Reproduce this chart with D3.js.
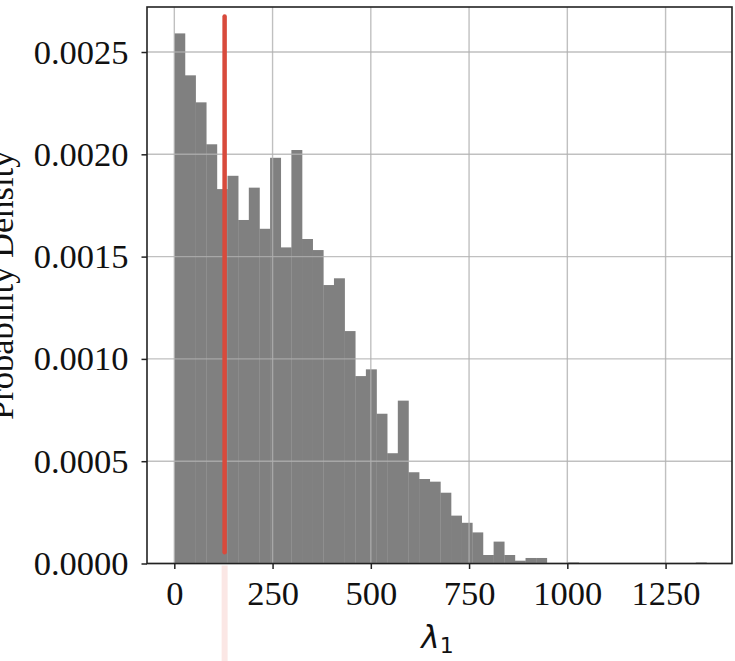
<!DOCTYPE html>
<html>
<head>
<meta charset="utf-8">
<script src="https://cdn.jsdelivr.net/npm/d3@7"></script>
<style>
  html, body { margin: 0; padding: 0; background: #fff; }
  svg { display: block; }
</style>
</head>
<body>
<svg id="chart" width="735" height="661"></svg>
<script>
// Histogram of λ1: 50 equal-width bins starting at 0
const binStart = 0;
const binWidth = 27.08;
const densities = [
  0.002591, 0.002386, 0.002254, 0.002049, 0.001830,
  0.001895, 0.001679, 0.001837, 0.001636, 0.001983,
  0.001545, 0.002021, 0.001586, 0.001532, 0.001361,
  0.001394, 0.001136, 0.000916, 0.000949, 0.000732,
  0.000539, 0.000796, 0.000446, 0.000413, 0.000400,
  0.000346, 0.000234, 0.000199, 0.000152, 0.0000415,
  0.000107, 0.0000415, 0.0000137, 0.000027, 0.000027,
  0, 0, 0.000005, 0, 0,
  0, 0, 0, 0, 0,
  0, 0, 0, 0, 0.000005
];
const markerValue = 128;           // vertical reference line
const xTicks = [0, 250, 500, 750, 1000, 1250];
const yTicks = [0, 0.0005, 0.0010, 0.0015, 0.0020, 0.0025];
const xDomain = [-69.5, 1419];
const yDomain = [0, 0.00272];

const svg = d3.select("#chart");
const plotLeft = 147, plotRight = 732, plotTop = 7, plotBottom = 563.5;

const x = d3.scaleLinear().domain(xDomain).range([plotLeft, plotRight]);
const y = d3.scaleLinear().domain(yDomain).range([plotBottom, plotTop]);

const bins = densities.map((d, i) => ({
  x0: binStart + i * binWidth,
  x1: binStart + (i + 1) * binWidth,
  d
}));

// bars
svg.append("g")
  .selectAll("rect")
  .data(bins.filter(b => b.d > 0))
  .join("rect")
  .attr("x", b => x(b.x0))
  .attr("width", b => x(b.x1) - x(b.x0) + 0.3)
  .attr("y", b => y(b.d))
  .attr("height", b => y(0) - y(b.d))
  .attr("fill", "#808080");

// grid (above the bars)
const grid = svg.append("g")
  .attr("stroke", "#b0b0b0")
  .attr("stroke-opacity", 0.8)
  .attr("stroke-width", 1.4);
grid.selectAll("line.gx").data(xTicks).join("line")
  .attr("class", "gx")
  .attr("x1", d => x(d)).attr("x2", d => x(d))
  .attr("y1", plotTop).attr("y2", plotBottom);
grid.selectAll("line.gy").data(yTicks).join("line")
  .attr("class", "gy")
  .attr("x1", plotLeft).attr("x2", plotRight)
  .attr("y1", d => y(d)).attr("y2", d => y(d));

// vertical reference line, spanning ~2%–98% of the axes height
const axH = plotBottom - plotTop;
svg.append("line")
  .attr("x1", x(markerValue)).attr("x2", x(markerValue))
  .attr("y1", plotBottom + 2).attr("y2", +svg.attr("height"))
  .attr("stroke", "#e0554a")
  .attr("stroke-opacity", 0.14)
  .attr("stroke-width", 6);
svg.append("line")
  .attr("x1", x(markerValue)).attr("x2", x(markerValue))
  .attr("y1", plotBottom - 0.02 * axH).attr("y2", plotTop + 0.017 * axH)
  .attr("stroke", "#d84a3c")
  .attr("stroke-width", 4.5)
  .attr("stroke-linecap", "round");

// axes
const fontFamily = "'Liberation Serif', 'Times New Roman', serif";
const xAxis = svg.append("g")
  .attr("transform", `translate(0,${plotBottom})`)
  .call(d3.axisBottom(x).tickValues(xTicks).tickSize(5.5).tickPadding(12)
    .tickFormat(d3.format("d")));
const yAxis = svg.append("g")
  .attr("transform", `translate(${plotLeft},0)`)
  .call(d3.axisLeft(y).tickValues(yTicks).tickSize(5.5).tickPadding(13)
    .tickFormat(d3.format(".4f")));

[xAxis, yAxis].forEach(g => {
  g.select(".domain").remove();
  g.selectAll(".tick line").attr("stroke", "#222").attr("stroke-width", 1.5);
  g.selectAll(".tick text")
    .attr("fill", "#111")
    .style("font-family", fontFamily)
    .style("font-size", "34.5px");
});

// frame
svg.append("rect")
  .attr("x", plotLeft).attr("y", plotTop)
  .attr("width", plotRight - plotLeft).attr("height", plotBottom - plotTop)
  .attr("fill", "none")
  .attr("stroke", "#222")
  .attr("stroke-width", 1.6);

// axis titles
svg.append("text")
  .attr("transform", `translate(13,${(plotTop + plotBottom) / 2}) rotate(-90)`)
  .attr("text-anchor", "middle")
  .style("font-family", fontFamily)
  .style("font-size", "34.5px")
  .attr("fill", "#111")
  .text("Probability Density");

const xt = svg.append("text")
  .attr("x", (plotLeft + plotRight) / 2 - 2)
  .attr("y", 648)
  .attr("text-anchor", "middle")
  .style("font-family", "'DejaVu Sans', sans-serif")
  .style("font-size", "31px")
  .attr("fill", "#111");
xt.append("tspan").style("font-style", "italic").text("λ");
xt.append("tspan").attr("dy", 5).style("font-size", "22px").text("1");
</script>
</body>
</html>
